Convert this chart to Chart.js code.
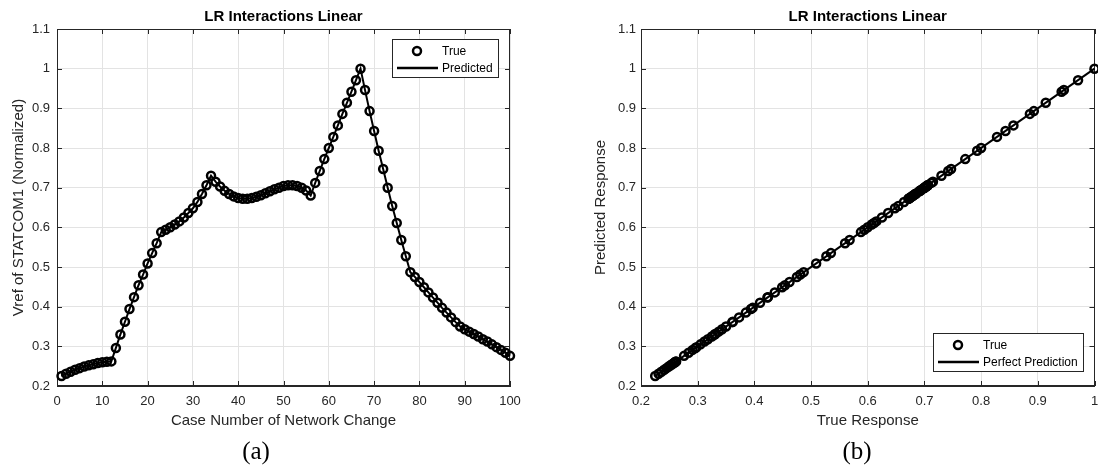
<!DOCTYPE html>
<html>
<head>
<meta charset="utf-8">
<script src="https://cdn.jsdelivr.net/npm/chart.js@4"></script>
<style>
  body { margin: 0; background: #fff; width: 1098px; height: 468px; position: relative; overflow: hidden; }
  canvas { position: absolute; top: 0; }
  #chartA { left: 0; }
  #chartB { left: 549px; }
  .cap { position: absolute; top: 436px; width: 80px; text-align: center; line-height: 30px;
         font-family: "Liberation Serif", "Times New Roman", serif; font-size: 25px; color: #000; }
</style>
</head>
<body>
<canvas id="chartA" width="549" height="440"></canvas>
<canvas id="chartB" width="552" height="440"></canvas>
<div class="cap" style="left:216px">(a)</div>
<div class="cap" style="left:817px">(b)</div>
<script>
// Normalized Vref of STATCOM1 for each case number (1..100)
const trueVals = [
  0.225, 0.231, 0.236, 0.241, 0.245, 0.249, 0.252, 0.255, 0.258, 0.260,
  0.261, 0.262, 0.296, 0.330, 0.362, 0.394, 0.424, 0.454, 0.481, 0.509,
  0.535, 0.560, 0.588, 0.594, 0.600, 0.607, 0.615, 0.625, 0.636, 0.648,
  0.664, 0.684, 0.706, 0.730, 0.715, 0.703, 0.692, 0.684, 0.678, 0.674,
  0.672, 0.672, 0.674, 0.677, 0.681, 0.686, 0.691, 0.696, 0.700, 0.704,
  0.706, 0.706, 0.704, 0.700, 0.693, 0.680, 0.712, 0.742, 0.772, 0.800,
  0.828, 0.857, 0.886, 0.914, 0.942, 0.971, 1.000, 0.946, 0.893, 0.843,
  0.793, 0.747, 0.700, 0.654, 0.611, 0.568, 0.527, 0.487, 0.475, 0.462,
  0.449, 0.436, 0.423, 0.410, 0.397, 0.385, 0.373, 0.361, 0.350, 0.343,
  0.337, 0.331, 0.325, 0.318, 0.312, 0.305, 0.298, 0.291, 0.284, 0.276
];
// linear model predictions (match the true values)
const predVals = trueVals.slice();

const xTicksA = [0, 100, 10];     // min, max, step
const yTicks = [0.2, 1.1, 0.1];
const xTicksB = [0.2, 1, 0.1];

const axisColor = '#262626';
const gridColor = '#e3e3e3';
const sans = '"Liberation Sans", Arial, sans-serif';

Chart.defaults.font.family = sans;
Chart.defaults.color = axisColor;

function fmt(v) { return String(Number(v.toFixed(2))); }

// axes box and inward tick marks (MATLAB style)
const boxPlugin = {
  id: 'boxTicks',
  beforeDatasetsDraw(chart) {
    const { ctx, chartArea: a, scales: { x, y } } = chart;
    ctx.save();
    ctx.strokeStyle = axisColor;
    ctx.lineWidth = 1;
    ctx.beginPath();
    x.ticks.forEach(t => {
      const px = Math.round(x.getPixelForValue(t.value)) + 0.5;
      ctx.moveTo(px, a.bottom); ctx.lineTo(px, a.bottom - 5);
      ctx.moveTo(px, a.top); ctx.lineTo(px, a.top + 5);
    });
    y.ticks.forEach(t => {
      const py = Math.round(y.getPixelForValue(t.value)) + 0.5;
      ctx.moveTo(a.left, py); ctx.lineTo(a.left + 5, py);
      ctx.moveTo(a.right, py); ctx.lineTo(a.right - 5, py);
    });
    ctx.stroke();
    ctx.strokeRect(Math.round(a.left) + 0.5, Math.round(a.top) + 0.5,
                   Math.round(a.right - a.left) - 1, Math.round(a.bottom - a.top) - 1);
    ctx.restore();
  }
};

// legend box drawn inside the plot area
function legendPlugin(place) {
  return {
    id: 'insideLegend',
    afterDraw(chart) {
      const { ctx, chartArea: a } = chart;
      const sets = chart.data.datasets;
      ctx.save();
      ctx.font = '12px ' + sans;
      const textW = Math.max(...sets.map(d => ctx.measureText(d.label).width));
      const w = Math.round(50 + textW + 5), h = 38;
      const left = Math.round(a.right - 12 - w);
      const top = Math.round(place === 'ne' ? a.top + 10 : a.bottom - 15 - h);
      ctx.fillStyle = '#fff';
      ctx.fillRect(left, top, w, h);
      ctx.strokeStyle = axisColor;
      ctx.lineWidth = 1;
      ctx.strokeRect(left + 0.5, top + 0.5, w, h);
      sets.forEach((d, i) => {
        const cy = top + 12 + i * 17;
        ctx.strokeStyle = '#000';
        ctx.lineWidth = 2.5;
        ctx.beginPath();
        if (d.showLine === false) {
          ctx.arc(left + 25, cy, 4, 0, Math.PI * 2);
        } else {
          ctx.moveTo(left + 5, cy); ctx.lineTo(left + 46, cy);
        }
        ctx.stroke();
        ctx.fillStyle = '#000';
        ctx.textBaseline = 'middle';
        ctx.fillText(d.label, left + 50, cy + 0.5);
      });
      ctx.restore();
    }
  };
}

function scaleX(range, title, height) {
  return {
    type: 'linear', min: range[0], max: range[1],
    ticks: { stepSize: range[2], callback: fmt, font: { size: 13 }, color: axisColor, padding: 8, maxRotation: 0 },
    grid: { color: gridColor, drawTicks: false },
    border: { color: axisColor },
    title: { display: true, text: title, font: { size: 15 }, color: axisColor, padding: { top: 0, bottom: 10 } },
    afterFit: s => { s.height = height; s.paddingLeft = 0; s.paddingRight = 0; }
  };
}

function scaleY(title, width, tickPad, titlePad) {
  return {
    type: 'linear', min: yTicks[0], max: yTicks[1],
    ticks: { stepSize: yTicks[2], callback: fmt, font: { size: 13 }, color: axisColor, padding: tickPad },
    grid: { color: gridColor, drawTicks: false },
    border: { color: axisColor },
    title: { display: true, text: title, font: { size: 15 }, color: axisColor, padding: { top: titlePad, bottom: 0 } },
    afterFit: s => { s.width = width; }
  };
}

const titleOpts = {
  display: true, text: 'LR Interactions Linear', fullSize: false,
  font: { size: 15, weight: 'bold' }, color: '#000', padding: { top: 8, bottom: 3 }
};

const markerStyle = {
  showLine: false, pointRadius: 4, pointHoverRadius: 4, pointBorderWidth: 2.5,
  pointBorderColor: '#000', pointBackgroundColor: 'rgba(0,0,0,0)', clip: false
};
const lineStyle = {
  showLine: true, borderColor: '#000', borderWidth: 2, pointRadius: 0, clip: false
};

// (a) true and predicted per case
new Chart(document.getElementById('chartA'), {
  type: 'scatter',
  data: {
    datasets: [
      Object.assign({ label: 'True', data: trueVals.map((v, i) => ({ x: i + 1, y: v })), order: 2 }, markerStyle),
      Object.assign({ label: 'Predicted', data: predVals.map((v, i) => ({ x: i + 1, y: v })), order: 1 }, lineStyle)
    ]
  },
  options: {
    responsive: false, animation: false, devicePixelRatio: 1,
    layout: { padding: { left: 0, right: 39, top: 0, bottom: 0 } },
    scales: {
      x: scaleX(xTicksA, 'Case Number of Network Change', 54),
      y: scaleY('Vref of STATCOM1 (Normalized)', 57, 7, 10)
    },
    plugins: { legend: { display: false }, tooltip: { enabled: false }, title: titleOpts }
  },
  plugins: [boxPlugin, legendPlugin('ne')]
});

// (b) predicted vs true
const lo = Math.min(...trueVals), hi = Math.max(...trueVals);
new Chart(document.getElementById('chartB'), {
  type: 'scatter',
  data: {
    datasets: [
      Object.assign({ label: 'True', data: trueVals.map((v, i) => ({ x: v, y: predVals[i] })), order: 2 }, markerStyle),
      Object.assign({ label: 'Perfect Prediction', data: [{ x: lo, y: lo }, { x: hi, y: hi }], order: 1 }, lineStyle)
    ]
  },
  options: {
    responsive: false, animation: false, devicePixelRatio: 1,
    layout: { padding: { left: 0, right: 1, top: 0, bottom: 0 } },
    scales: {
      x: scaleX(xTicksB, 'True Response', 54),
      y: scaleY('Predicted Response', 92, 5, 43)
    },
    plugins: { legend: { display: false }, tooltip: { enabled: false }, title: titleOpts }
  },
  plugins: [boxPlugin, legendPlugin('se')]
});
</script>
</body>
</html>
